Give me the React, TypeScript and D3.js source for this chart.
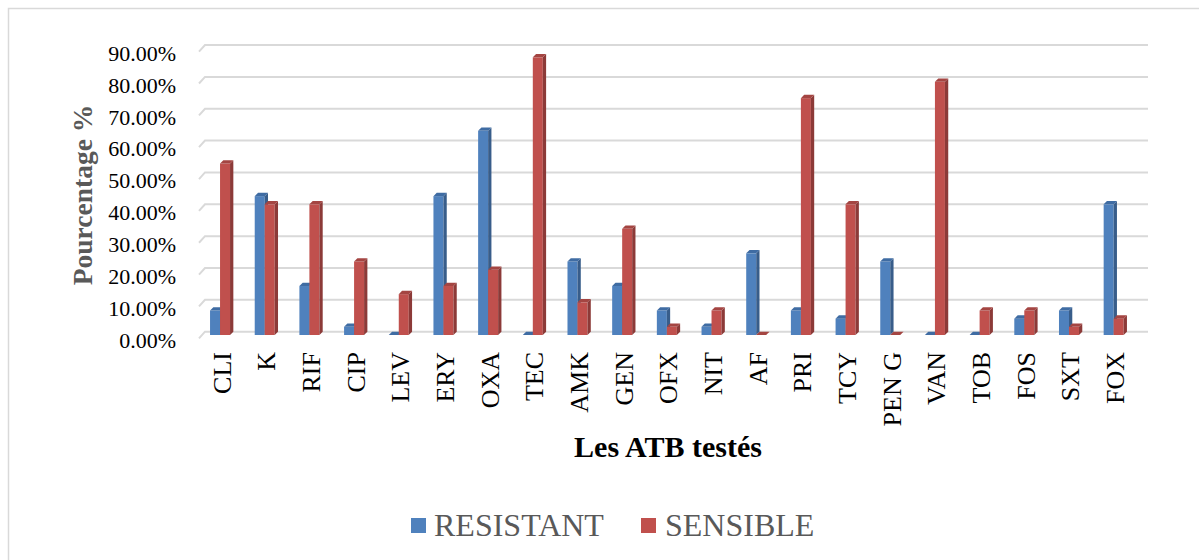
import React from 'react'
import { scaleBand, scaleLinear } from 'd3'

const categories = ['CLI', 'K', 'RIF', 'CIP', 'LEV', 'ERY', 'OXA', 'TEC', 'AMK', 'GEN', 'OFX', 'NIT', 'AF', 'PRI', 'TCY', 'PEN G', 'VAN', 'TOB', 'FOS', 'SXT', 'FOX']
const resistant = [7.69, 43.59, 15.38, 2.56, 0, 43.59, 64.1, 0, 23.08, 15.38, 7.69, 2.56, 25.64, 7.69, 5.13, 23.08, 0, 0, 5.13, 7.69, 41.03]
const sensible = [53.85, 41.03, 41.03, 23.08, 12.82, 15.38, 20.51, 87.18, 10.26, 33.33, 2.56, 7.69, 0, 74.36, 41.03, 0, 79.49, 7.69, 7.69, 2.56, 5.13]
const seriesNames = ['RESISTANT', 'SENSIBLE']
const yTicks = [0, 10, 20, 30, 40, 50, 60, 70, 80, 90]

const front = { RESISTANT: '#4F81BD', SENSIBLE: '#C0504D' }
const side = { RESISTANT: '#385D8A', SENSIBLE: '#8C3A38' }
const top = { RESISTANT: '#3F6CA3', SENSIBLE: '#A44542' }

const depth = 3.3
const serif = "'Liberation Serif', 'Times New Roman', Times, serif"

function Bar(props) {
  const { x, w, y0, y1, name } = props
  const d = depth
  const sidePath = `M${x + w},${y1} L${x + w + d},${y1 - d} L${x + w + d},${y0 - d} L${x + w},${y0} Z`
  const topPath = `M${x},${y1} L${x + d},${y1 - d} L${x + w + d},${y1 - d} L${x + w},${y1} Z`
  return <g>
    <rect x={x} y={y1} width={w} height={Math.max(0, y0 - y1)} fill={front[name]} />
    <path d={sidePath} fill={side[name]} />
    <path d={topPath} fill={top[name]} />
  </g>
}

export default function App() {
  const xScale = scaleBand().domain(categories).range([197.7, 1136])
  const inner = scaleBand().domain(seriesNames).range([-10, 10])
  const yScale = scaleLinear().domain([0, 90]).range([335, 48.35])

  const data = { RESISTANT: resistant, SENSIBLE: sensible }
  const ts = { fontFamily: serif }

  return (
    <svg width={1199} height={560} style={{ position: 'absolute', left: 0, top: 0, background: '#fff' }}>
      <rect x={8.5} y={8.5} width={1200} height={600} fill="white" stroke="#d9d9d9" strokeWidth={1.5} />

      {/* gridlines on the back wall with the floor slant */}
      {yTicks.map(t => {
        const y = yScale(t)
        return <path key={t} d={`M199,${y + depth} L205,${y - depth} L1148,${y - depth}`}
          fill="none" stroke="#d9d9d9" strokeWidth={2} />
      })}

      {yTicks.map(t => (
        <text key={'l' + t} x={176} y={yScale(t) + 5} textAnchor="end" dominantBaseline="central"
          fontSize={22} fill="#000" style={ts}>{t.toFixed(2) + '%'}</text>
      ))}

      <text transform={`translate(82,195) rotate(-90)`} textAnchor="middle" dominantBaseline="central"
        fontSize={27.5} fontWeight="bold" fill="#595959" style={ts}>Pourcentage %</text>

      {categories.map((c, i) => (
        <g key={c}>
          {seriesNames.map(s => {
            const x = xScale(c) + xScale.bandwidth() / 2 + inner(s)
            return <Bar key={s} x={x} w={inner.bandwidth()} y0={yScale(0)} y1={yScale(data[s][i])} name={s} />
          })}
        </g>
      ))}

      {categories.map(c => (
        <text key={'x' + c} transform={`translate(${xScale(c) + xScale.bandwidth() / 2 + 2},352) rotate(-90)`}
          textAnchor="end" dominantBaseline="central" fontSize={26} fill="#000" style={ts}>{c}</text>
      ))}

      <text x={668} y={457} textAnchor="middle" fontSize={30} fontWeight="bold" fill="#000" style={ts}>Les ATB testés</text>

      <g style={ts}>
        <rect x={411} y={518} width={15} height={15} fill={front.RESISTANT} />
        <text x={434} y={536} fontSize={32} fill="#595959">RESISTANT</text>
        <rect x={641} y={518} width={15} height={15} fill={front.SENSIBLE} />
        <text x={665} y={536} fontSize={32} fill="#595959">SENSIBLE</text>
      </g>
    </svg>
  )
}
